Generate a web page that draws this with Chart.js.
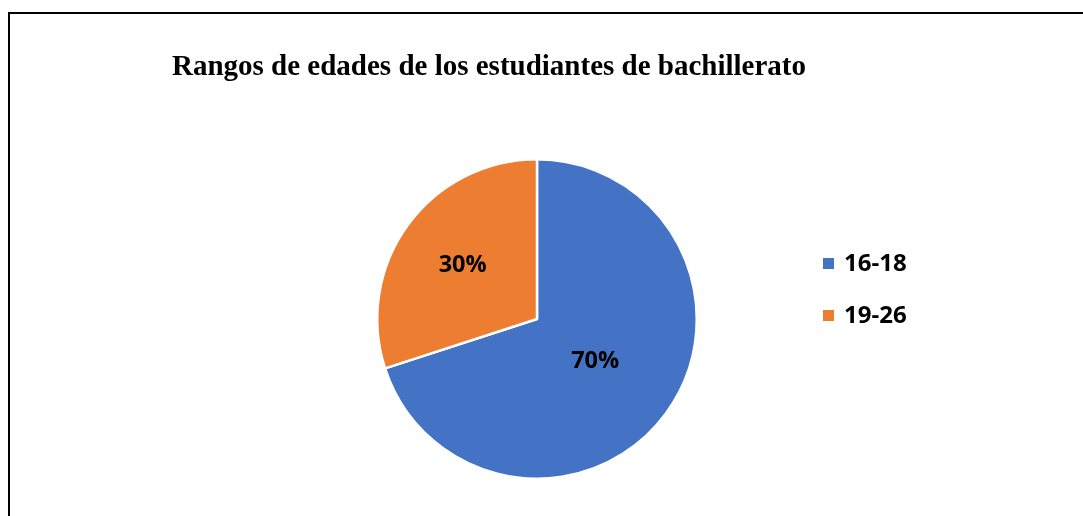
<!DOCTYPE html>
<html>
<head>
<meta charset="utf-8">
<script src="https://cdn.jsdelivr.net/npm/chart.js@4.4.0/dist/chart.umd.min.js"></script>
<style>
  html, body { margin: 0; padding: 0; background: #ffffff; overflow: hidden; }
  #wrap { position: relative; width: 1083px; height: 516px; }
  #frame { position: absolute; left: 8px; top: 12px; width: 1100px; height: 600px;
           border-left: 2px solid #000; border-top: 2px solid #000; box-sizing: border-box; pointer-events: none; }
  canvas { position: absolute; left: 0; top: 0; }
</style>
</head>
<body>
<div id="wrap">
  <canvas id="c" width="1083" height="516"></canvas>
  <div id="frame"></div>
</div>
<script>
const title = "Rangos de edades de los estudiantes de bachillerato";
const categories = ["16-18", "19-26"];
const values = [70, 30];
const colors = ["#4472C4", "#ED7D31"];

const labelFont = "bold 23.5px 'Open Sans', 'Liberation Sans', sans-serif";
const legendFont = "bold 24px 'Open Sans', 'Liberation Sans', sans-serif";
const labelRadius = [0.45, 0.575];

const overlay = {
  id: "overlay",
  afterDraw(chart) {
    const ctx = chart.ctx;
    ctx.save();
    // title
    ctx.fillStyle = "#000";
    ctx.font = "bold 29px 'Liberation Serif', 'Times New Roman', serif";
    ctx.textAlign = "left";
    ctx.textBaseline = "alphabetic";
    ctx.fillText(title, 172, 75);
    // data labels
    ctx.textBaseline = "middle";
    const meta = chart.getDatasetMeta(0);
    const total = values.reduce((a, b) => a + b, 0);
    ctx.font = labelFont;
    ctx.textAlign = "center";
    meta.data.forEach((arc, i) => {
      const p = arc.getProps(["x", "y", "startAngle", "endAngle", "outerRadius"], true);
      const mid = (p.startAngle + p.endAngle) / 2;
      const r = p.outerRadius * labelRadius[i];
      const pct = Math.round(values[i] / total * 100) + "%";
      ctx.fillText(pct, p.x + Math.cos(mid) * r, p.y + Math.sin(mid) * r);
    });
    // legend
    ctx.textAlign = "left";
    ctx.font = legendFont;
    categories.forEach((cat, i) => {
      const y = 264 + i * 52;
      ctx.fillStyle = colors[i];
      ctx.fillRect(823, y - 6, 11, 11);
      ctx.fillStyle = "#000";
      ctx.fillText(cat, 844, y);
    });
    ctx.restore();
  }
};

new Chart(document.getElementById("c"), {
  type: "pie",
  data: {
    labels: categories,
    datasets: [{
      data: values,
      backgroundColor: colors,
      borderColor: "#ffffff",
      borderWidth: 2.5
    }]
  },
  options: {
    responsive: false,
    animation: false,
    layout: { padding: { left: 376, right: 385, top: 158, bottom: 36 } },
    plugins: { legend: { display: false }, title: { display: false }, tooltip: { enabled: false } }
  },
  plugins: [overlay]
});
</script>
</body>
</html>
